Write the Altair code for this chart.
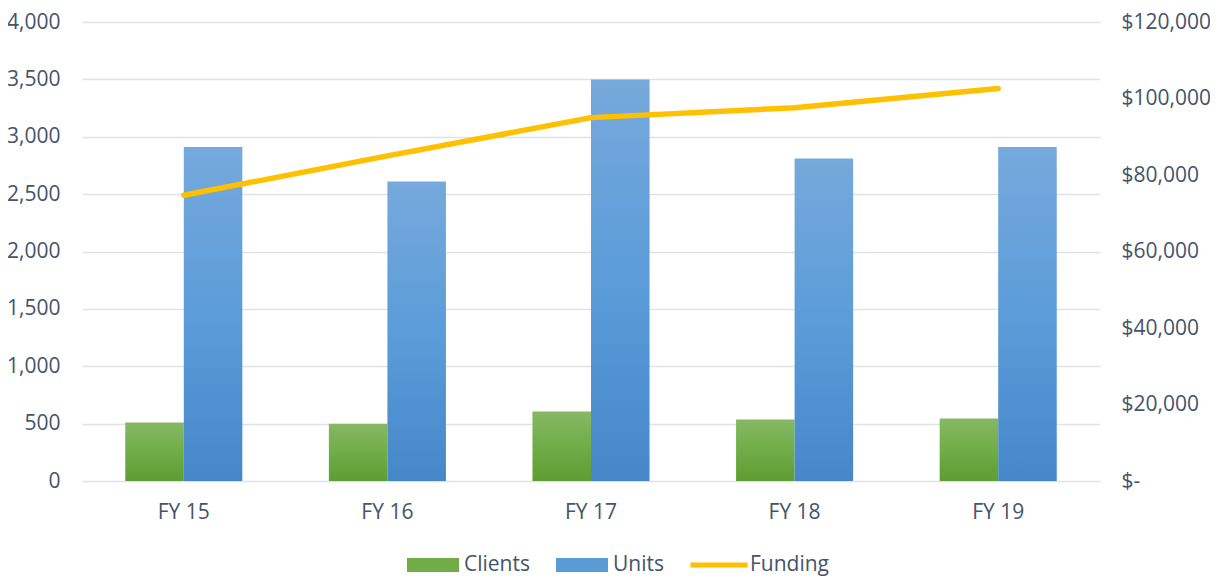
import altair as alt
import pandas as pd

years = ["FY 15", "FY 16", "FY 17", "FY 18", "FY 19"]
clients = [510, 500, 605, 535, 545]
units = [2910, 2610, 3500, 2810, 2910]
funding = [74700, 85000, 95000, 97600, 102600]

series_names = ["Clients", "Units", "Funding"]
series_colors = ["#70ad47", "#5b9bd5", "#ffc000"]
legend_shapes = [
    "M-1,-0.27H1V0.27H-1Z",
    "M-1,-0.27H1V0.27H-1Z",
    "M-1.1,-0.1H1.1V0.1H-1.1Z",
]

bars_df = pd.DataFrame({
    "year": years * 2,
    "series": ["Clients"] * len(years) + ["Units"] * len(years),
    "value": clients + units,
})
fund_df = pd.DataFrame({"year": years, "funding": funding, "series": ["Funding"] * len(years)})

TEXT = "#44546a"
FONT = "Open Sans"

green = alt.Gradient(
    gradient="linear", x1=0, x2=0, y1=0, y2=1,
    stops=[alt.GradientStop(color="#86b864", offset=0),
           alt.GradientStop(color="#70ad47", offset=0.5),
           alt.GradientStop(color="#5f9c33", offset=1)],
)
blue = alt.Gradient(
    gradient="linear", x1=0, x2=0, y1=0, y2=1,
    stops=[alt.GradientStop(color="#76a9dc", offset=0),
           alt.GradientStop(color="#5b9cd9", offset=0.5),
           alt.GradientStop(color="#4587c9", offset=1)],
)

x_enc = alt.X(
    "year:N",
    sort=years,
    title=None,
    scale=alt.Scale(paddingInner=0.425, paddingOuter=0.2125),
    axis=alt.Axis(labelAngle=0, domain=False, ticks=False, labelPadding=20,
                  labelFontSize=21, labelColor=TEXT, labelFont=FONT),
)
xoff = alt.XOffset("series:N", scale=alt.Scale(domain=["Clients", "Units"], paddingInner=0, paddingOuter=0))
y_left = alt.Y(
    "value:Q",
    title=None,
    scale=alt.Scale(domain=[0, 4000], nice=False),
    axis=alt.Axis(values=list(range(0, 4001, 500)), format=",.0f", domain=False, ticks=False,
                  grid=True, gridColor="#dfe3e8", gridWidth=1.5, labelPadding=22,
                  labelFontSize=21, labelColor=TEXT, labelFont=FONT),
)

base_bars = alt.Chart(bars_df)
clients_bars = base_bars.transform_filter(alt.datum.series == "Clients").mark_bar(fill=green).encode(
    x=x_enc, xOffset=xoff, y=y_left)
units_bars = base_bars.transform_filter(alt.datum.series == "Units").mark_bar(fill=blue).encode(
    x=x_enc, xOffset=xoff, y=y_left)

y_right = alt.Y(
    "funding:Q",
    title=None,
    scale=alt.Scale(domain=[0, 120000], nice=False),
    axis=alt.Axis(orient="right", values=list(range(0, 120001, 20000)), grid=False, domain=False,
                  ticks=False, labelPadding=21, labelFontSize=21, labelColor=TEXT, labelFont=FONT,
                  labelExpr="datum.value == 0 ? '$-' : '$' + format(datum.value, ',')"),
)

line = alt.Chart(fund_df).mark_line(color="#ffc000", strokeWidth=5.5, strokeCap="round", strokeJoin="round").encode(
    x=x_enc, y=y_right)

legend_pts = alt.Chart(fund_df).mark_point(filled=True, opacity=0).encode(
    x=x_enc,
    y=y_right,
    color=alt.Color("series:N", scale=alt.Scale(domain=series_names, range=series_colors),
                    legend=alt.Legend(title=None, orient="none", direction="horizontal",
                                      legendX=325, legendY=517)),
    shape=alt.Shape("series:N", scale=alt.Scale(domain=series_names, range=legend_shapes),
                    legend=alt.Legend(title=None, orient="none", direction="horizontal",
                                      legendX=325, legendY=517)),
)

left = alt.layer(clients_bars, units_bars)
right = alt.layer(line, legend_pts)

chart = alt.layer(left, right).resolve_scale(y="independent").properties(
    width=1018,
    height=459,
    padding={"left": 74, "top": 14, "right": 110, "bottom": 100},
    autosize=alt.AutoSizeParams(type="none"),
).configure_view(strokeWidth=0).configure_legend(
    symbolSize=2704,
    symbolStrokeWidth=0,
    symbolOpacity=1,
    labelFontSize=21,
    labelFont=FONT,
    labelColor=TEXT,
    labelOffset=5,
    columnPadding=26,
    padding=0,
)

chart.save("out.html", embed_options={"renderer": "svg", "actions": False})
